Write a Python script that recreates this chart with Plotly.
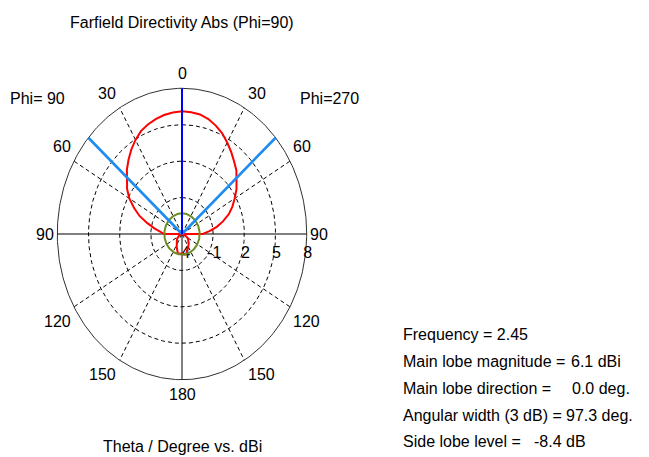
import numpy as np
import plotly.graph_objects as go

# ---------------- data ----------------
theta_deg = list(range(0, 181, 5))

# Directivity (dBi) for the phi=90 half (left) and the phi=270 half (right)
directivity_phi90 = [6.1, 6.05, 5.95, 5.8, 5.6, 5.35, 4.95, 4.5, 4.0, 3.5,
                     2.95, 2.45, 1.85, 1.1, 0.35, -0.55, -1.3, -1.9, -2.3,
                     -7.5, -4.6, -4.1, -3.85, -3.7, -3.6, -3.5, -3.4, -3.3,
                     -3.2, -3.1, -3.0, -2.8, -2.6, -2.4, -2.35, -2.38, -2.4]
directivity_phi270 = [6.1, 6.07, 6.0, 5.8, 5.5, 5.15, 4.7, 4.25, 3.8, 3.4,
                      2.85, 2.4, 1.85, 1.35, 0.8, 0.1, -0.6, -1.35, -2.0,
                      -7.0, -4.4, -3.9, -3.7, -3.55, -3.4, -3.3, -3.2, -3.1,
                      -3.0, -2.9, -2.8, -2.65, -2.5, -2.35, -2.3, -2.35, -2.4]

angle_ticks = [0, 30, 60, 90, 120, 150, 180]
angle_tick_labels = ["0", "30", "60", "90", "120", "150", "180"]
radial_ticks = [-4, -1, 2, 5, 8]
radial_tick_labels = ["-4", "-1", "2", "5", "8"]

frequency = 2.45
main_lobe_magnitude = 6.1
main_lobe_direction = 0.0
angular_width_3db = 97.3
side_lobe_level = -8.4

title_text = "Farfield Directivity Abs (Phi=90)"
axis_caption = "Theta / Degree vs. dBi"
left_cut_label = "Phi= 90"
right_cut_label = "Phi=270"

info_labels = ["Frequency = %g" % frequency,
               "Main lobe magnitude =",
               "Main lobe direction =",
               "Angular width (3 dB) =",
               "Side lobe level ="]
info_values = ["",
               "%.1f dBi" % main_lobe_magnitude,
               "%.1f deg." % main_lobe_direction,
               "%.1f deg." % angular_width_3db,
               "%.1f dB" % side_lobe_level]

# ---------------- geometry / layout ----------------
PAGE_W, PAGE_H = 649, 457
OFF = 8                       # default page body margin
W, H = PAGE_W - OFF, PAGE_H - OFF
R_MIN, R_MAX = radial_ticks[0], radial_ticks[-1]
CX, CY = 182.0 - OFF, 234.0 - OFF   # figure-pixel centre of the diagram
RX, RY = 124.7, 145.7               # pixel radii (diagram stretched vertically)
span = R_MAX - R_MIN
sx, sy = RX / span, RY / span
x_range = [-CX / sx, (W - CX) / sx]
y_range = [-(H - CY) / sy, CY / sy]

FONT = "Liberation Sans, Arial, sans-serif"
BLACK = "#000000"


def to_xy(values, thetas, side):
    t = np.radians(np.asarray(thetas, dtype=float))
    r = np.clip(np.asarray(values, dtype=float) - R_MIN, 0, None)
    return side * r * np.sin(t), r * np.cos(t)


fig = go.Figure()


def add_line(x, y, color, width, dash="solid"):
    fig.add_trace(go.Scatter(x=list(x), y=list(y), mode="lines",
                             line=dict(color=color, width=width, dash=dash),
                             hoverinfo="skip", showlegend=False))


full = np.linspace(0, 360, 361)
# dashed level ellipses
for lv in radial_ticks[1:-1]:
    xs, ys = to_xy([lv] * len(full), full, 1)
    add_line(xs, ys, BLACK, 1, "4px,3px")
# dashed spokes
for a in angle_ticks:
    if a in (0, 90, 180):
        continue
    for side in (-1, 1):
        xs, ys = to_xy([R_MIN, R_MAX], [a, a], side)
        add_line(xs, ys, BLACK, 1, "4px,3px")
# solid axes
xs, ys = to_xy([R_MAX, R_MAX], [0, 180], 1)
add_line([0, 0], [ys[0], ys[1]], BLACK, 1)
xs, ys = to_xy([R_MAX, R_MAX], [90, 90], 1)
add_line([-xs[0], xs[0]], [0, 0], BLACK, 1)
# outer ellipse
xs, ys = to_xy([R_MAX] * len(full), full, 1)
add_line(xs, ys, "#303030", 1)

# radial tick labels (drawn beneath the curves)
rt_x = [to_xy([v], [90], 1)[0][0] + 1.0 / sx for v in radial_ticks]
rt_y = [-20 / sy] * len(radial_ticks)
fig.add_trace(go.Scatter(x=rt_x, y=rt_y, mode="text", text=radial_tick_labels,
                         textfont=dict(family=FONT, size=16, color=BLACK),
                         hoverinfo="skip", showlegend=False))

# directivity curve (phi=90 on the left, phi=270 on the right)
xl, yl = to_xy(directivity_phi90, theta_deg, -1)
xr, yr = to_xy(directivity_phi270, theta_deg, 1)
add_line(np.concatenate([xl[::-1], xr]), np.concatenate([yl[::-1], yr]),
         "#FF0000", 2)

# side lobe level circle
sll = main_lobe_magnitude + side_lobe_level
xs, ys = to_xy([sll] * len(full), full, 1)
add_line(xs, ys, "#6B8E23", 2)

# 3 dB angular width lines
half = angular_width_3db / 2
for side in (-1, 1):
    xs, ys = to_xy([R_MIN, R_MAX], [main_lobe_direction + side * half] * 2, 1)
    add_line(xs, ys, "#1E8CF0", 2.6)

# main lobe direction
xs, ys = to_xy([R_MIN, R_MAX], [main_lobe_direction] * 2, 1)
add_line(xs, ys, "#0000FF", 2)

# ---------------- text ----------------
ann = []


def text_px(x, y, s, xanchor="center"):
    """x, y are page pixels of the reference image."""
    ann.append(dict(x=(x - OFF) / W, y=1 - (y - OFF) / H,
                    xref="paper", yref="paper",
                    text=s, showarrow=False, xanchor=xanchor, yanchor="middle",
                    font=dict(family=FONT, size=16, color=BLACK)))


# angle labels outside the outer ellipse
for a, lab in zip(angle_ticks, angle_tick_labels):
    sides = (1,) if a in (0, 180) else (-1, 1)
    t = np.radians(a)
    s, c = np.sin(t), np.cos(t)
    hw = 4.5 * len(lab)
    for side in sides:
        dx = 0.0 if a in (0, 180) else RX * s + hw + 3.5
        dy = 0.0 if a == 90 else RY * c + 14.5 * np.sign(c)
        text_px(182 + side * dx, 234 - dy, lab)

text_px(182, 23, title_text)
text_px(8, 99, left_cut_label, "left")
text_px(298, 99, right_cut_label, "left")
text_px(182, 446, axis_caption)

info_x = 401
info_y = [334, 361.5, 388, 415, 441.5]
value_x = [0, 569, 570, 564, 532]
for lab, val, y, vx in zip(info_labels, info_values, info_y, value_x):
    text_px(info_x, y, lab, "left")
    if val:
        text_px(vx, y, val, "left")

fig.update_layout(
    width=W, height=H,
    margin=dict(l=0, r=0, t=0, b=0),
    paper_bgcolor="white", plot_bgcolor="white",
    xaxis=dict(range=x_range, visible=False, fixedrange=True, domain=[0, 1]),
    yaxis=dict(range=y_range, visible=False, fixedrange=True, domain=[0, 1]),
    annotations=ann,
    showlegend=False,
)

fig.write_html("out.html")
